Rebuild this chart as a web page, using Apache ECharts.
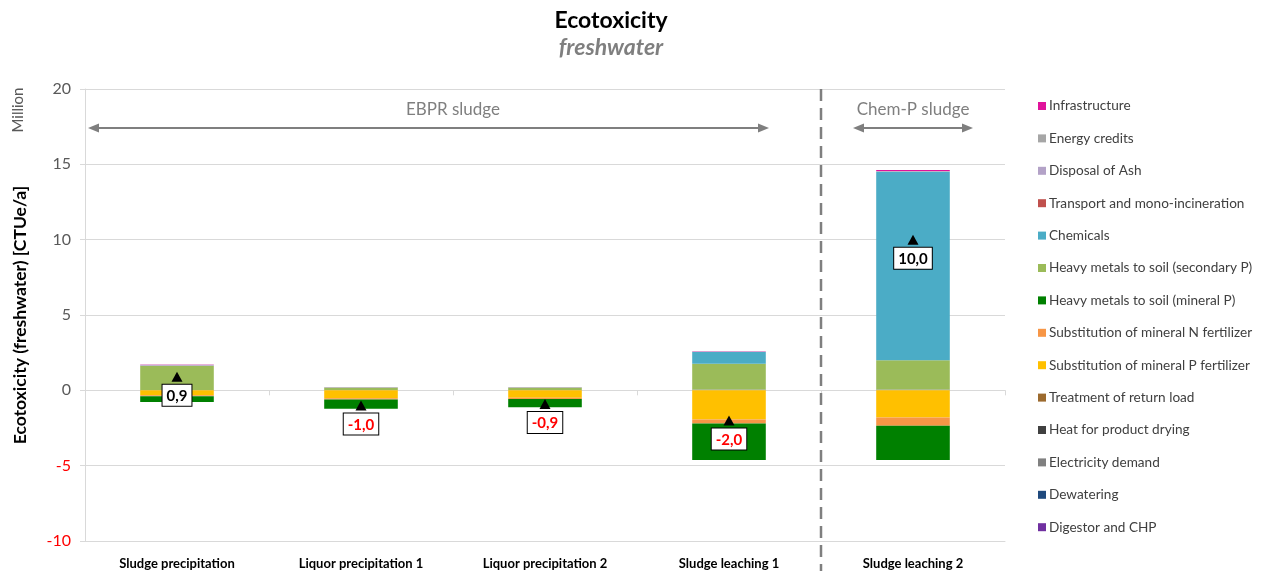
<!DOCTYPE html>
<html>
<head>
<meta charset="utf-8">
<script src="https://cdn.jsdelivr.net/npm/echarts@6/dist/echarts.min.js"></script>
<style>
  html, body { margin: 0; padding: 0; background: #fff; }
  #main { width: 1272px; height: 574px; }
</style>
</head>
<body>
<div id="main"></div>
<script>
// categories (scenarios)
var categories = ["Sludge precipitation", "Liquor precipitation 1", "Liquor precipitation 2", "Sludge leaching 1", "Sludge leaching 2"];

// contributions in million CTUe/a (stack order bottom -> top)
var digestorCHP     = [0, 0, 0, 0, 0];
var dewatering      = [0, 0, 0, 0, 0];
var electricity     = [0.03, 0.03, 0.03, 0.05, 0.05];
var heatDrying      = [0, 0, 0, 0, 0];
var returnLoad      = [0, 0, 0, 0, 0];
var substP          = [-0.32, -0.53, -0.50, -1.93, -1.80];
var substN          = [-0.08, -0.08, -0.08, -0.27, -0.55];
var hmMineral       = [-0.38, -0.62, -0.55, -2.42, -2.28];
var hmSecondary     = [1.60, 0.15, 0.15, 1.72, 1.95];
var chemicals       = [0, 0, 0, 0.77, 12.50];
var transport       = [0, 0, 0, 0, 0.02];
var disposalAsh     = [0.07, 0.04, 0.04, 0.04, 0.03];
var energyCredits   = [0, 0, 0, 0, 0];
var infrastructure  = [0.02, 0, 0, 0.02, 0.08];

// net totals shown in the boxes
var netTotals = [0.9, -1.0, -0.9, -2.0, 10.0];

var yTicks = { min: -10, max: 20, interval: 5 };

var seriesDefs = [
  { name: "Digestor and CHP", data: digestorCHP, color: "#7030A0" },
  { name: "Dewatering", data: dewatering, color: "#1F497D" },
  { name: "Electricity demand", data: electricity, color: "#808080" },
  { name: "Heat for product drying", data: heatDrying, color: "#404040" },
  { name: "Treatment of return load", data: returnLoad, color: "#9C6A2E" },
  { name: "Substitution of mineral P fertilizer", data: substP, color: "#FFC000" },
  { name: "Substitution of mineral N fertilizer", data: substN, color: "#F79646" },
  { name: "Heavy metals to soil (mineral P)", data: hmMineral, color: "#008000" },
  { name: "Heavy metals to soil (secondary P)", data: hmSecondary, color: "#9BBB59" },
  { name: "Chemicals", data: chemicals, color: "#4BACC6" },
  { name: "Transport and mono-incineration", data: transport, color: "#C0504D" },
  { name: "Disposal of Ash", data: disposalAsh, color: "#B3A2C7" },
  { name: "Energy credits", data: energyCredits, color: "#A6A6A6" },
  { name: "Infrastructure", data: infrastructure, color: "#E0139B" }
];

var FONT = "Lato";

var series = seriesDefs.map(function (s) {
  return {
    name: s.name,
    type: "bar",
    stack: "total",
    xAxisIndex: 0,
    barCategoryGap: "60%",
    itemStyle: { color: s.color },
    emphasis: { disabled: true },
    data: s.data
  };
});

series.push({
  name: "net",
  type: "scatter",
  xAxisIndex: 0,
  symbol: "triangle",
  symbolSize: [11, 10],
  z: 10,
  itemStyle: { color: "#000", opacity: 1 },
  emphasis: { disabled: true },
  label: {
    show: true,
    position: "bottom",
    distance: 3,
    fontFamily: FONT,
    fontWeight: "bold",
    fontSize: 15,
    backgroundColor: "#fff",
    borderColor: "#000",
    borderWidth: 1,
    padding: [4, 4, 2, 4],
    formatter: function (p) { return p.value.toFixed(1).replace(".", ","); }
  },
  data: netTotals.map(function (v) {
    return { value: v, label: { color: v < 0 ? "#FF0000" : "#000" } };
  })
});

var chart = echarts.init(document.getElementById("main"));

var option = {
  animation: false,
  backgroundColor: "#fff",
  title: {
    text: "Ecotoxicity",
    subtext: "freshwater",
    left: 606,
    top: 4,
    textAlign: "center",
    itemGap: 4,
    textStyle: { fontFamily: FONT, fontSize: 23, fontWeight: "bold", color: "#000" },
    subtextStyle: { fontFamily: FONT, fontSize: 23, fontWeight: "bold", fontStyle: "italic", color: "#7F7F7F" }
  },
  legend: {
    orient: "vertical",
    left: 1033,
    top: 94,
    itemWidth: 8,
    itemHeight: 8,
    itemGap: 18.4,
    icon: "rect",
    selectedMode: false,
    textStyle: { fontFamily: FONT, fontSize: 13.6, color: "#404040", padding: [0, 0, 0, -2] },
    data: seriesDefs.map(function (s) { return s.name; }).reverse()
  },
  grid: { left: 85, right: 267, top: 89, bottom: 33 },
  xAxis: [
    {
      type: "category",
      data: categories,
      position: "bottom",
      axisLine: { onZero: true, lineStyle: { color: "#D9D9D9", width: 1 } },
      axisTick: { show: true, length: 5, lineStyle: { color: "#D9D9D9" } },
      axisLabel: { show: false }
    },
    {
      type: "category",
      data: categories,
      position: "bottom",
      axisLine: { onZero: false, lineStyle: { color: "#D9D9D9", width: 1 } },
      axisTick: { show: false },
      axisLabel: { fontFamily: FONT, fontSize: 13, fontWeight: "bold", color: "#000", margin: 16 }
    }
  ],
  yAxis: {
    type: "value",
    min: yTicks.min,
    max: yTicks.max,
    interval: yTicks.interval,
    name: "Ecotoxicity (freshwater) [CTUe/a]",
    nameLocation: "middle",
    nameGap: 56,
    nameRotate: 90,
    nameTextStyle: { fontFamily: FONT, fontSize: 17.5, fontWeight: "bold", color: "#000" },
    axisLine: { show: true, lineStyle: { color: "#D9D9D9" } },
    axisTick: { show: true, length: 5, lineStyle: { color: "#D9D9D9" } },
    splitLine: { lineStyle: { color: "#D9D9D9" } },
    axisLabel: {
      fontFamily: FONT,
      fontSize: 16,
      margin: 14,
      color: function (v) { return Number(v) < 0 ? "#FF0000" : "#595959"; }
    }
  },
  series: series
};

chart.setOption(option);

// annotations: group arrows, divider, unit label
var cx = categories.map(function (c) { return chart.convertToPixel({ xAxisIndex: 0 }, c); });
var y20 = chart.convertToPixel({ yAxisIndex: 0 }, 20);
var yBottom = chart.convertToPixel({ yAxisIndex: 0 }, -10);
var divider = (cx[3] + cx[4]) / 2;
var arrowY = y20 + 39;
var grey = "#7F7F7F";

function arrow(x1, x2, y) {
  var h = 11, w = 4.5;
  return [
    { type: "line", shape: { x1: x1 + h, y1: y, x2: x2 - h, y2: y }, style: { stroke: grey, lineWidth: 2 } },
    { type: "polygon", shape: { points: [[x1, y], [x1 + h, y - w], [x1 + h, y + w]] }, style: { fill: grey } },
    { type: "polygon", shape: { points: [[x2, y], [x2 - h, y - w], [x2 - h, y + w]] }, style: { fill: grey } }
  ];
}

var graphics = []
  .concat(arrow(88, cx[3] + 40, arrowY))
  .concat(arrow(divider + 32, cx[4] + 60, arrowY))
  .concat([
    { type: "line", shape: { x1: divider, y1: y20, x2: divider, y2: yBottom + 30 },
      style: { stroke: grey, lineWidth: 2.5, lineDash: [12, 7] }, z: 5 },
    { type: "text", x: (cx[1] + cx[2]) / 2, y: arrowY - 18,
      style: { text: "EBPR sludge", fontFamily: FONT, fontSize: 17, fill: grey, align: "center", verticalAlign: "middle" } },
    { type: "text", x: cx[4], y: arrowY - 18,
      style: { text: "Chem-P sludge", fontFamily: FONT, fontSize: 17, fill: grey, align: "center", verticalAlign: "middle" } },
    { type: "text", x: 18, y: 110, rotation: Math.PI / 2,
      style: { text: "Million", fontFamily: FONT, fontSize: 15, fill: "#595959", align: "center", verticalAlign: "middle" } }
  ]);

chart.setOption({ graphic: graphics });
</script>
</body>
</html>
